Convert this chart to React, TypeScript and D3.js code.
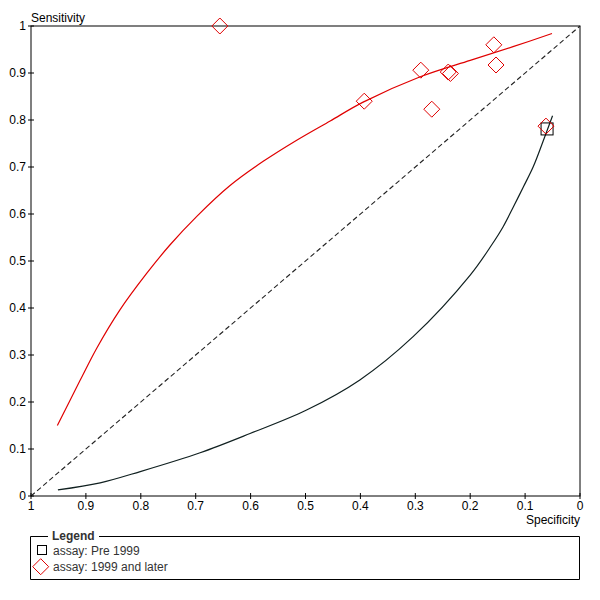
import React from 'react'
import * as d3 from 'd3'

// tick values shared by both axes
const tickValues = [0, 0.1, 0.2, 0.3, 0.4, 0.5, 0.6, 0.7, 0.8, 0.9, 1]

// study points: assay Pre 1999 (squares)
const preSpec = [0.06]
const preSens = [0.781]

// study points: assay 1999 and later (diamonds)
const postSpec = [0.656, 0.393, 0.29, 0.27, 0.24, 0.236, 0.157, 0.153, 0.062]
const postSens = [1.0, 0.84, 0.906, 0.823, 0.902, 0.899, 0.96, 0.917, 0.787]

// SROC curve, Pre 1999
const preCurveSpec = [0.951, 0.874, 0.801, 0.692, 0.601, 0.498, 0.401, 0.304, 0.2, 0.161, 0.14, 0.121, 0.103, 0.085, 0.064, 0.05]
const preCurveSens = [0.013, 0.028, 0.052, 0.092, 0.133, 0.183, 0.247, 0.339, 0.47, 0.534, 0.573, 0.616, 0.658, 0.701, 0.765, 0.809]

// SROC curve, 1999 and later
const postCurveSpec = [0.952, 0.911, 0.88, 0.838, 0.789, 0.747, 0.698, 0.638, 0.577, 0.516, 0.455, 0.395, 0.291, 0.2, 0.122, 0.051]
const postCurveSens = [0.15, 0.245, 0.315, 0.396, 0.474, 0.534, 0.595, 0.66, 0.712, 0.757, 0.798, 0.838, 0.892, 0.927, 0.956, 0.984]

const legendLabels = ['assay: Pre 1999', 'assay: 1999 and later']

const font = 'Arial, "Liberation Sans", sans-serif'
const red = '#e00000'

export default function App() {
  const left = 31, right = 580, top = 26, bottom = 496
  const x = d3.scaleLinear().domain([1, 0]).range([left, right])
  const y = d3.scaleLinear().domain([0, 1]).range([bottom, top])

  // smooth curve through the read-off points
  const line = d3.line<[number, number]>()
    .x(d => x(d[0]))
    .y(d => y(d[1]))
    .curve(d3.curveCatmullRom.alpha(0.5))

  const prePath = line(preCurveSpec.map((s, i) => [s, preCurveSens[i]]) as [number, number][])
  const postPath = line(postCurveSpec.map((s, i) => [s, postCurveSens[i]]) as [number, number][])

  const diamond = (cx: number, cy: number, r: number) =>
    `M${cx},${cy - r}L${cx + r},${cy}L${cx},${cy + r}L${cx - r},${cy}Z`

  const fmt = (v: number) => (v === 0 || v === 1 ? String(v) : v.toFixed(1))

  return (
    <div style={{ position: 'absolute', left: 0, top: 0 }}>
      <svg width={600} height={600} style={{ display: 'block', fontFamily: font }}>
        <rect width={600} height={600} fill="#fff" />

        {/* frame */}
        <rect x={left} y={top} width={right - left} height={bottom - top} fill="none" stroke="#000" strokeWidth={1} />

        {/* reference diagonal */}
        <line x1={x(1)} y1={y(0)} x2={x(0)} y2={y(1)} stroke="#222" strokeDasharray="5,3" strokeWidth={1.1} />

        {/* y axis ticks */}
        {tickValues.map(v => (
          <g key={'y' + v}>
            <line x1={left - 3} x2={left + 3} y1={y(v)} y2={y(v)} stroke="#000" />
            <text x={left - 5} y={y(v) + 4} textAnchor="end" fontSize={12} fill="#000">{fmt(v)}</text>
          </g>
        ))}

        {/* x axis ticks */}
        {tickValues.map(v => (
          <g key={'x' + v}>
            <line x1={x(v)} x2={x(v)} y1={bottom - 3} y2={bottom + 3} stroke="#000" />
            <text x={x(v)} y={bottom + 14} textAnchor="middle" fontSize={12} fill="#000">{fmt(v)}</text>
          </g>
        ))}

        <text x={left} y={top - 4} fontSize={12} fill="#000">Sensitivity</text>
        <text x={right} y={bottom + 28} textAnchor="end" fontSize={12} fill="#000">Specificity</text>

        {/* SROC curves */}
        <path d={prePath || ''} fill="none" stroke="#102020" strokeWidth={1.2} />
        <path d={postPath || ''} fill="none" stroke={red} strokeWidth={1.2} />

        {/* study points */}
        {preSpec.map((s, i) => (
          <rect key={'p' + i} x={x(s) - 6} y={y(preSens[i]) - 6} width={12} height={12} fill="none" stroke="#000" strokeWidth={1} />
        ))}
        {postSpec.map((s, i) => (
          <path key={'q' + i} d={diamond(x(s), y(postSens[i]), 8)} fill="none" stroke={red} strokeWidth={1} />
        ))}

        {/* legend */}
        <path d={`M48,536.5H30.5V579.5H579.5V536.5H99`} fill="none" stroke="#000" strokeWidth={1} />
        <text x={52} y={540} fontSize={12} fontWeight="bold" fill="#333">Legend</text>
        <rect x={37.5} y={545.5} width={9} height={9} fill="none" stroke="#000" />
        <text x={53} y={555} fontSize={12} fill="#333">{legendLabels[0]}</text>
        <path d={diamond(40.7, 566.7, 8)} fill="none" stroke={red} />
        <text x={53} y={571} fontSize={12} fill="#333">{legendLabels[1]}</text>
      </svg>
    </div>
  )
}
